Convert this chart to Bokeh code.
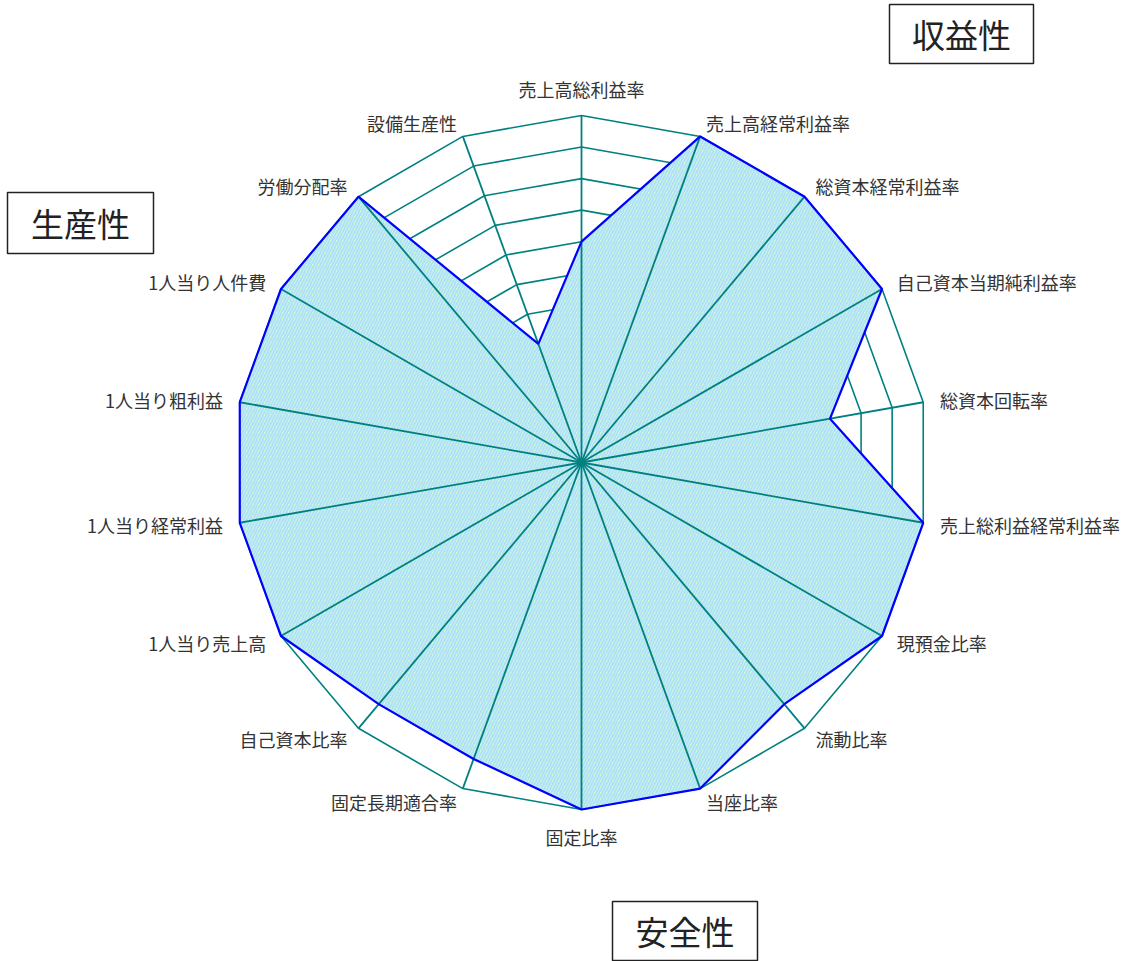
import math
from bokeh.plotting import figure
from bokeh.models import Range1d, ColumnDataSource
from bokeh.core.properties import value
from bokeh.embed import file_html
from bokeh.resources import INLINE

categories = ["売上高総利益率", "売上高経常利益率", "総資本経常利益率", "自己資本当期純利益率",
              "総資本回転率", "売上総利益経常利益率", "現預金比率", "流動比率", "当座比率",
              "固定比率", "固定長期適合率", "自己資本比率", "1人当り売上高", "1人当り経常利益",
              "1人当り粗利益", "1人当り人件費", "労働分配率", "設備生産性"]
scores = [7, 11, 11, 11, 8, 11, 11, 10, 11, 11, 10, 10, 11, 11, 11, 11, 11, 4]
levels = list(range(1, 12))
max_level = 11
group_labels = ["収益性", "生産性", "安全性"]

FONT = "Noto Sans CJK JP"
R = 347.0  # px radius of outer ring
unit = R / max_level

cx, cy = 581, 462
W, H = 1128, 961
p = figure(width=W, height=H, output_backend="svg", toolbar_location=None,
           x_range=Range1d(-cx, W - cx), y_range=Range1d(cy - H, cy),
           min_border=0)
p.axis.visible = False
p.grid.visible = False
p.outline_line_color = None
p.background_fill_color = "white"

n = len(categories)
angles = [math.radians(90 - 360.0 * i / n) for i in range(n)]

# rings
for lv in levels:
    xs = [lv * unit * math.cos(a) for a in angles] + [lv * unit * math.cos(angles[0])]
    ys = [lv * unit * math.sin(a) for a in angles] + [lv * unit * math.sin(angles[0])]
    p.line(xs, ys, line_color="#008080", line_width=1.6)

# data polygon
dx = [s * unit * math.cos(a) for s, a in zip(scores, angles)]
dy = [s * unit * math.sin(a) for s, a in zip(scores, angles)]
p.patch(dx, dy, fill_color="#d2fad2", line_color=None,
        hatch_pattern="/", hatch_color="#aee0ff", hatch_scale=6, hatch_weight=2.0)

# spokes
sx0 = [0] * n
sy0 = [0] * n
sx1 = [R * math.cos(a) for a in angles]
sy1 = [R * math.sin(a) for a in angles]
p.segment(sx0, sy0, sx1, sy1, line_color="#008080", line_width=1.8)

# outline
p.line(dx + [dx[0]], dy + [dy[0]], line_color="#0000ff", line_width=2.2)

# category labels
lx, ly, lxo, lyo, align = [], [], [], [], []
for i, a in enumerate(angles):
    lx.append(R * math.cos(a))
    ly.append(R * math.sin(a))
    c, s = math.cos(a), math.sin(a)
    if abs(c) < 1e-6:
        lxo.append(0)
        lyo.append(-27 if s > 0 else 27)
        align.append("center")
    else:
        lxo.append(17 * c)
        lyo.append(-14 * s)
        align.append("left" if c > 0 else "right")
src = ColumnDataSource(dict(x=lx, y=ly, t=categories, xo=lxo, yo=lyo, al=align))
p.text(x="x", y="y", text="t", x_offset="xo", y_offset="yo", text_align="al",
       text_baseline="middle", text_font=value(FONT), text_font_size="18px",
       text_color="#333333", source=src)

# group boxes (screen-pixel geometry converted to data coords)
boxes = [(889, 4, 1033, 63), (7, 192, 153, 253), (612, 901, 757, 960)]
bl, br, bt, bb, tx, ty = [], [], [], [], [], []
for (x0, y0, x1, y1) in boxes:
    bl.append(x0 - cx); br.append(x1 - cx)
    bt.append(cy - y0); bb.append(cy - y1)
    tx.append((x0 + x1) / 2 - cx); ty.append(cy - (y0 + y1) / 2)
p.quad(left=bl, right=br, top=bt, bottom=bb, fill_color="white",
       line_color="#222222", line_width=1.5)
p.text(x=tx, y=ty, text=group_labels, text_align="center", text_baseline="middle",
       text_font=value(FONT), text_font_size="33px", text_color="#222222")

open("out.html", "w").write(file_html(p, INLINE))
